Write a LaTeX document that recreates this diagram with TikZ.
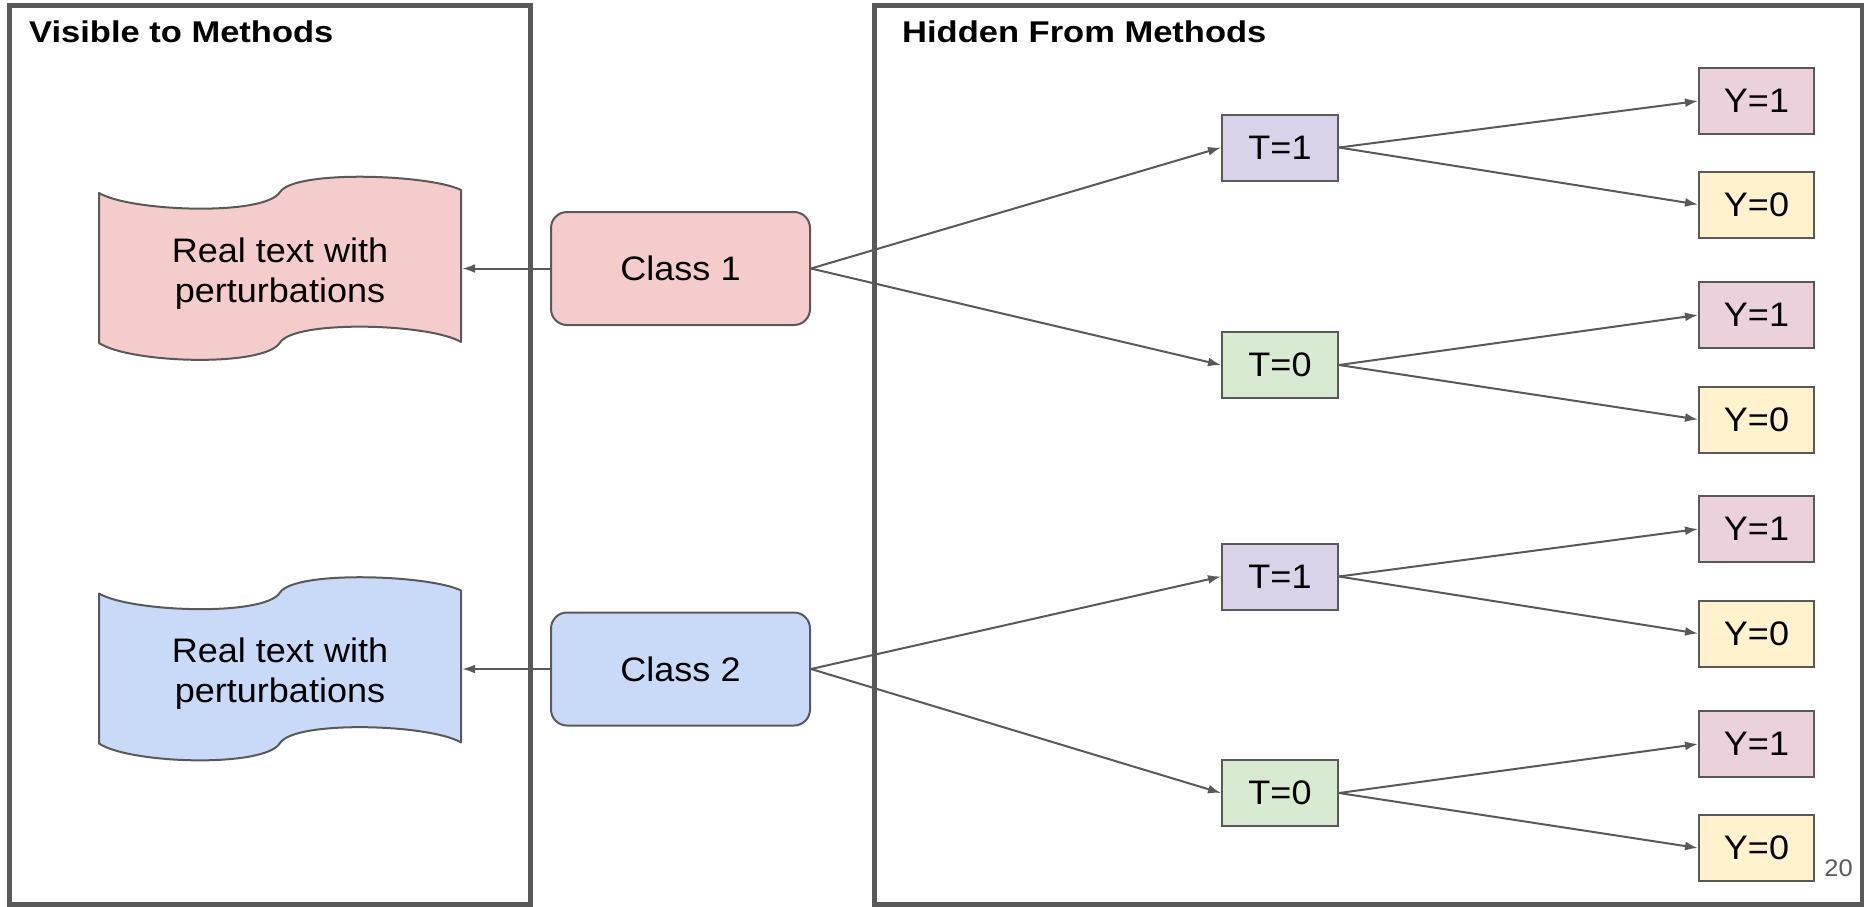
\documentclass[tikz,border=0pt]{standalone}
\usepackage{fontspec}
\setmainfont{Liberation Sans}[FakeStretch=1.06]
\newfontfamily\titlefont{Liberation Sans}[FakeStretch=1.15]
\usetikzlibrary{arrows.meta}
\definecolor{linegray}{HTML}{595959}
\definecolor{redlight}{HTML}{F4CCCC}
\definecolor{bluelight}{HTML}{C9DAF8}
\definecolor{purplelight}{HTML}{D9D2E9}
\definecolor{greenlight}{HTML}{D9EAD3}
\definecolor{magentalight}{HTML}{EAD1DC}
\definecolor{yellowlight}{HTML}{FFF2CC}

\begin{document}
\begin{tikzpicture}[x=1pt,y=-1pt,
	  every node/.style={font=\fontsize{34}{40}\selectfont},
	  conn/.style={draw=linegray,line width=2pt,-{Latex[length=13pt,width=9pt]}},
	  wave/.style={draw=linegray,line width=2pt,line join=round,fill=#1}]
	  \tikzstyle{panel} = [draw=linegray,line width=5pt]
	  \tikzstyle{heading} = [font=\titlefont\fontsize{30}{36}\selectfont\bfseries,inner sep=0pt,anchor=base west]
	  \tikzstyle{tape} = [minimum width=364pt,minimum height=194pt,align=center,yshift=-5pt]
	  \tikzstyle{classbox} = [draw=linegray,line width=2pt,rounded corners=16pt,minimum width=259pt,minimum height=113pt]
	  \tikzstyle{tbox} = [draw=linegray,line width=2pt,minimum width=116pt,minimum height=66pt]
	  \tikzstyle{ybox} = [draw=linegray,line width=2pt,minimum width=115pt,minimum height=66pt]
	  \useasboundingbox (0,0) rectangle (1864,906);
	  \draw[panel] (9.5,5) rectangle (530,904);
	  \draw[panel] (874.5,5) rectangle (1862,904);
	  \node (head_vis) [heading] at (29,42) {Visible to Methods};
	  \node (head_hid) [heading] at (902,42) {Hidden From Methods};
	  \filldraw[wave=redlight,shift={(280,268.5)}]
	    (-181,-75.5) .. controls (-150,-57) and (-15,-52) .. (0,-76.5)
	    .. controls (15,-99) and (150,-94) .. (181,-78.5)
	    -- (181,73.5) .. controls (150,55) and (15,51) .. (0,74)
	    .. controls (-15,99) and (-150,95) .. (-181,74.5) -- cycle;
	  \filldraw[wave=bluelight,shift={(280,669)}]
	    (-181,-75.5) .. controls (-150,-57) and (-15,-52) .. (0,-76.5)
	    .. controls (15,-99) and (150,-94) .. (181,-78.5)
	    -- (181,73.5) .. controls (150,55) and (15,51) .. (0,74)
	    .. controls (-15,99) and (-150,95) .. (-181,74.5) -- cycle;
	  \node (tape_1) [tape] at (280,268.5) {Real text with\\perturbations};
	  \node (tape_2) [tape] at (280,669) {Real text with\\perturbations};
	  \node (class_1) [classbox,fill=redlight] at (680.5,268.5) {Class 1};
	  \node (class_2) [classbox,fill=bluelight] at (680.5,669) {Class 2};
	  \node (t1_1) [tbox,fill=purplelight] at (1280,147.5) {T=1};
	  \node (t1_0) [tbox,fill=greenlight] at (1280,365) {T=0};
	  \node (t2_1) [tbox,fill=purplelight] at (1280,576.5) {T=1};
	  \node (t2_0) [tbox,fill=greenlight] at (1280,793) {T=0};
	  \node (y11_1) [ybox,fill=magentalight] at (1756.5,101) {Y=1};
	  \node (y11_0) [ybox,fill=yellowlight] at (1756.5,204.5) {Y=0};
	  \node (y10_1) [ybox,fill=magentalight] at (1756.5,315) {Y=1};
	  \node (y10_0) [ybox,fill=yellowlight] at (1756.5,419.5) {Y=0};
	  \node (y21_1) [ybox,fill=magentalight] at (1756.5,529) {Y=1};
	  \node (y21_0) [ybox,fill=yellowlight] at (1756.5,633.5) {Y=0};
	  \node (y20_1) [ybox,fill=magentalight] at (1756.5,744) {Y=1};
	  \node (y20_0) [ybox,fill=yellowlight] at (1756.5,848) {Y=0};
	  \draw[conn] (class_1.west) to (class_1.west -| tape_1.east);
	  \draw[conn] (class_2.west) to (class_2.west -| tape_2.east);
	  \draw[conn] (class_1.east) to (t1_1.west);
	  \draw[conn] (class_1.east) to (t1_0.west);
	  \draw[conn] (class_2.east) to (t2_1.west);
	  \draw[conn] (class_2.east) to (t2_0.west);
	  \draw[conn] (t1_1.east) to (y11_1.west);
	  \draw[conn] (t1_1.east) to (y11_0.west);
	  \draw[conn] (t1_0.east) to (y10_1.west);
	  \draw[conn] (t1_0.east) to (y10_0.west);
	  \draw[conn] (t2_1.east) to (y21_1.west);
	  \draw[conn] (t2_1.east) to (y21_0.west);
	  \draw[conn] (t2_0.east) to (y20_1.west);
	  \draw[conn] (t2_0.east) to (y20_0.west);
	  \node (page_no) [font=\fontsize{24}{29}\selectfont,text=linegray] at (1838.5,868) {20};
	\end{tikzpicture}
\end{document}
